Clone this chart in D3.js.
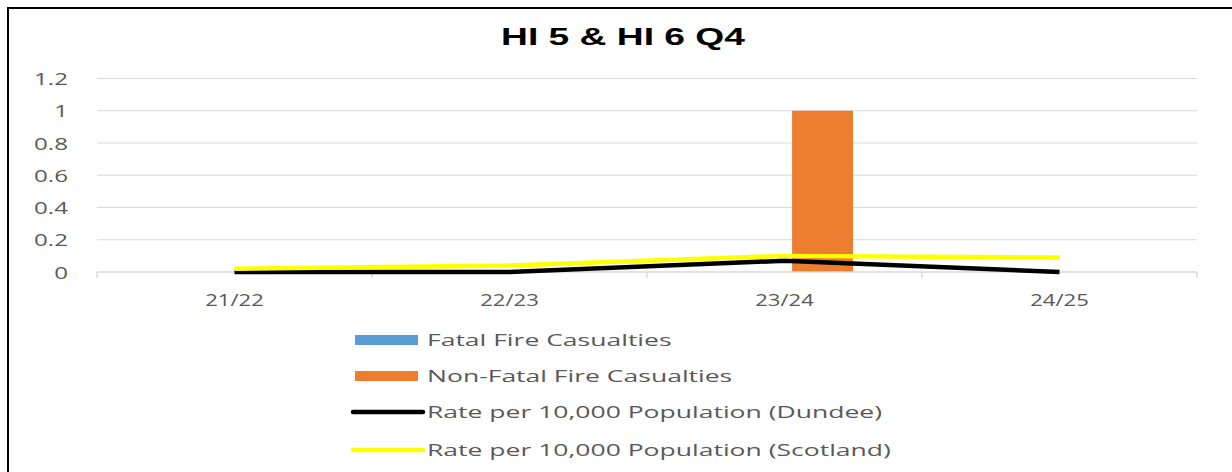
<!DOCTYPE html>
<html>
<head>
<meta charset="utf-8">
<script src="https://cdn.jsdelivr.net/npm/d3@7"></script>
<style>
  html, body { margin: 0; padding: 0; background: #fff; }
  svg { display: block; }
</style>
</head>
<body>
<svg id="chart" width="1232" height="472"></svg>
<script>
const title = "HI 5 & HI 6 Q4";
const categories = ["21/22", "22/23", "23/24", "24/25"];
const fatal = [0, 0, 0, 0];
const nonFatal = [0, 0, 1, 0];
const rateDundee = [0, 0, 0.07, 0];
const rateScotland = [0.02, 0.04, 0.10, 0.09];
const yTicks = [0, 0.2, 0.4, 0.6, 0.8, 1, 1.2];
const barSeries = ["Fatal Fire Casualties", "Non-Fatal Fire Casualties"];
const lineSeries = ["Rate per 10,000 Population (Dundee)", "Rate per 10,000 Population (Scotland)"];
const colors = {
  "Fatal Fire Casualties": "#5B9BD5",
  "Non-Fatal Fire Casualties": "#ED7D31",
  "Rate per 10,000 Population (Dundee)": "#000000",
  "Rate per 10,000 Population (Scotland)": "#FFFF00"
};

const font = "'Open Sans', sans-serif";
const titleFont = "'Liberation Sans', Arial, sans-serif";
const svg = d3.select("#chart");

// chart frame
svg.append("rect").attr("x", 8).attr("y", 8).attr("width", 1240).attr("height", 480)
  .attr("fill", "#fff").attr("stroke", "#000").attr("stroke-width", 2);

const plot = { left: 97, right: 1197, top: 78.5, bottom: 272 };

const x0 = d3.scaleBand().domain(categories).range([plot.left, plot.right])
  .paddingInner(0.502).paddingOuter(0.251);
const x1 = d3.scaleBand().domain(barSeries).range([0, x0.bandwidth()]).paddingInner(0.2);
const y = d3.scaleLinear().domain([0, 1.2]).range([plot.bottom, plot.top]);
const cx = c => x0(c) + x0.bandwidth() / 2;

// gridlines
svg.append("g").selectAll("line").data(yTicks.filter(d => d > 0)).join("line")
  .attr("x1", plot.left).attr("x2", plot.right)
  .attr("y1", d => y(d)).attr("y2", d => y(d))
  .attr("stroke", "#d9d9d9").attr("stroke-width", 1.2);

// y axis labels
const yAxis = svg.append("g").attr("transform", `translate(68,0)`)
  .call(d3.axisLeft(y).tickValues(yTicks).tickSize(0).tickFormat(d => String(d)));
yAxis.select(".domain").remove();
yAxis.selectAll("text")
  .attr("x", 0).attr("dy", "0.36em")
  .attr("transform", `scale(1.42,1)`)
  .attr("font-family", font).attr("font-size", 17).attr("fill", "#595959");

// bars
const barData = [];
categories.forEach((c, i) => {
  barData.push({ c, s: barSeries[0], v: fatal[i] });
  barData.push({ c, s: barSeries[1], v: nonFatal[i] });
});
svg.append("g").selectAll("rect").data(barData.filter(d => d.v > 0)).join("rect")
  .attr("x", d => x0(d.c) + x1(d.s))
  .attr("width", x1.bandwidth())
  .attr("y", d => y(d.v))
  .attr("height", d => y(0) - y(d.v))
  .attr("fill", d => colors[d.s]);

// x axis
const xBoundary = d3.scaleLinear().domain([0, categories.length]).range([plot.left, plot.right]);
const xAxisG = svg.append("g");
xAxisG.append("line").attr("x1", plot.left).attr("x2", plot.right)
  .attr("y1", plot.bottom).attr("y2", plot.bottom)
  .attr("stroke", "#d9d9d9").attr("stroke-width", 1.5);
xAxisG.selectAll("line.tick").data(d3.range(categories.length + 1)).join("line")
  .attr("class", "tick")
  .attr("x1", d => xBoundary(d)).attr("x2", d => xBoundary(d))
  .attr("y1", plot.bottom).attr("y2", plot.bottom + 6)
  .attr("stroke", "#d9d9d9").attr("stroke-width", 1.5);
xAxisG.selectAll("g.lbl").data(categories).join("g")
  .attr("class", "lbl")
  .attr("transform", d => `translate(${cx(d)},${plot.bottom + 28})`)
  .append("text").attr("text-anchor", "middle").attr("dy", "0.36em")
  .attr("transform", `scale(1.3,1)`)
  .attr("font-family", font).attr("font-size", 17).attr("fill", "#595959")
  .text(d => d);

// lines
const lineGen = d3.line().x(d => cx(d.c)).y(d => y(d.v));
[[lineSeries[0], rateDundee], [lineSeries[1], rateScotland]].forEach(([name, vals]) => {
  svg.append("path")
    .datum(categories.map((c, i) => ({ c, v: vals[i] })))
    .attr("d", lineGen)
    .attr("fill", "none")
    .attr("stroke", colors[name])
    .attr("stroke-width", 4.5)
    .attr("stroke-linejoin", "round");
});

// title
svg.append("g").attr("transform", `translate(623,45)`)
  .append("text").attr("text-anchor", "middle")
  .attr("transform", `scale(1.55,1)`)
  .attr("font-family", titleFont).attr("font-weight", "bold").attr("font-size", 24).attr("fill", "#000")
  .text(title);

// legend
const legendItems = [
  { name: barSeries[0], type: "bar", y: 340 },
  { name: barSeries[1], type: "bar", y: 376 },
  { name: lineSeries[0], type: "line", y: 412 },
  { name: lineSeries[1], type: "line", y: 450 }
];
const lg = svg.append("g");
legendItems.forEach(it => {
  if (it.type === "bar") {
    lg.append("rect").attr("x", 355).attr("y", it.y - 5).attr("width", 63).attr("height", 10)
      .attr("fill", colors[it.name]);
  } else {
    lg.append("line").attr("x1", 353).attr("x2", 423).attr("y1", it.y).attr("y2", it.y)
      .attr("stroke", colors[it.name]).attr("stroke-width", 4.5).attr("stroke-linecap", "round");
  }
  lg.append("g").attr("transform", `translate(427,${it.y})`)
    .append("text").attr("dy", "0.36em")
    .attr("transform", `scale(1.56,1)`)
    .attr("font-family", font).attr("font-size", 17).attr("fill", "#595959")
    .text(it.name);
});
</script>
</body>
</html>
